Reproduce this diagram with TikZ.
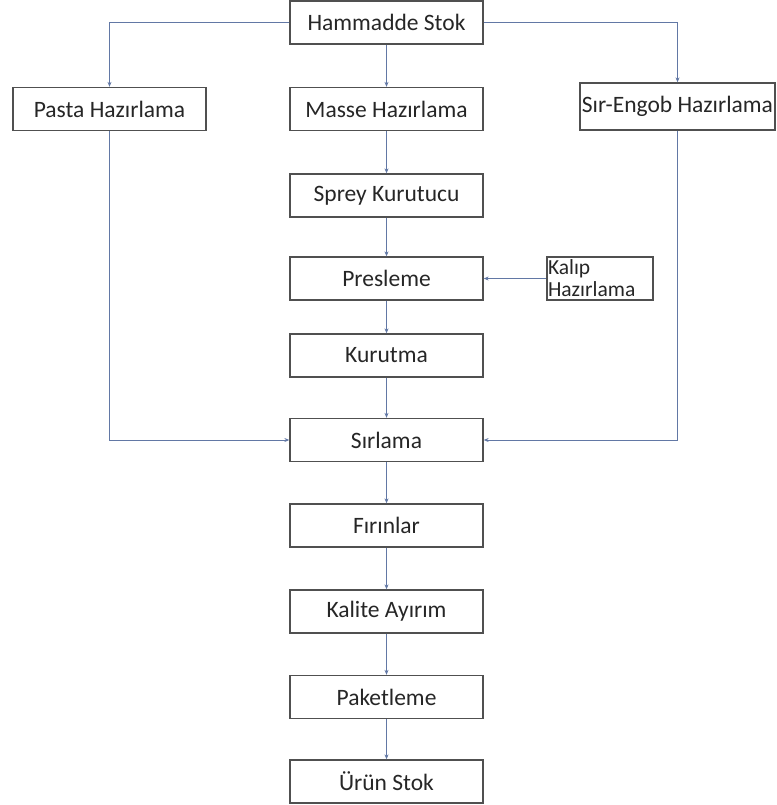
\documentclass[tikz,border=0pt]{standalone}
\usepackage{fontspec}
\setmainfont{Carlito}
\usetikzlibrary{arrows.meta}

\definecolor{flowline}{RGB}{98,120,165}
\definecolor{boxline}{RGB}{80,80,80}

\tikzset{
  stepbox/.style={draw=boxline, line width=1.3pt, minimum width=193, minimum height=43,
    inner sep=1, text=black!85, font=\fontsize{23.5}{26}\selectfont},
  flow/.style={draw=flowline, line width=1pt, -{Stealth[length=5pt,width=4pt]}}
}

\begin{document}
\begin{tikzpicture}[x=1pt,y=-1pt]
\useasboundingbox (0,0) rectangle (776,805);
\node[stepbox] (ham) at (386.5,22.5) {Hammadde Stok};
\node[stepbox] (pasta) at (109.5,109) {Pasta Hazırlama};
\node[stepbox] (masse) at (386.5,109) {Masse Hazırlama};
\node[stepbox, minimum width=195, minimum height=47, inner sep=0] (sir) at (677.5,106.5) {Sır-Engob Hazırlama};
\node[stepbox] (sprey) at (386.5,195.5) {Sprey Kurutucu};
\node[stepbox] (pres) at (386.5,278.5) {Presleme};
\node[stepbox, minimum width=106, text width=104, inner sep=0, align=left,
  font=\fontsize{21.5}{22}\selectfont] (kalip) at (600,278.5) {Kalıp\\Hazırlama};
\node[stepbox] (kur) at (386.5,355.5) {Kurutma};
\node[stepbox] (sirl) at (386.5,440) {Sırlama};
\node[stepbox] (firin) at (386.5,525.5) {Fırınlar};
\node[stepbox] (kalite) at (386.5,611.5) {Kalite Ayırım};
\node[stepbox] (paket) at (386.5,697) {Paketleme};
\node[stepbox] (urun) at (386.5,781.5) {Ürün Stok};

\path[flow] (ham.west) -| (pasta.north);
\path[flow] (ham.east) -| (sir.north);
\path[flow] (ham) -- (masse);
\path[flow] (masse) -- (sprey);
\path[flow] (sprey) -- (pres);
\path[flow] (kalip) -- (pres);
\path[flow] (pres) -- (kur);
\path[flow] (kur) -- (sirl);
\path[flow] (pasta.south) |- (sirl.west);
\path[flow] (sir.south) |- (sirl.east);
\path[flow] (sirl) -- (firin);
\path[flow] (firin) -- (kalite);
\path[flow] (kalite) -- (paket);
\path[flow] (paket) -- (urun);
\end{tikzpicture}
\end{document}
